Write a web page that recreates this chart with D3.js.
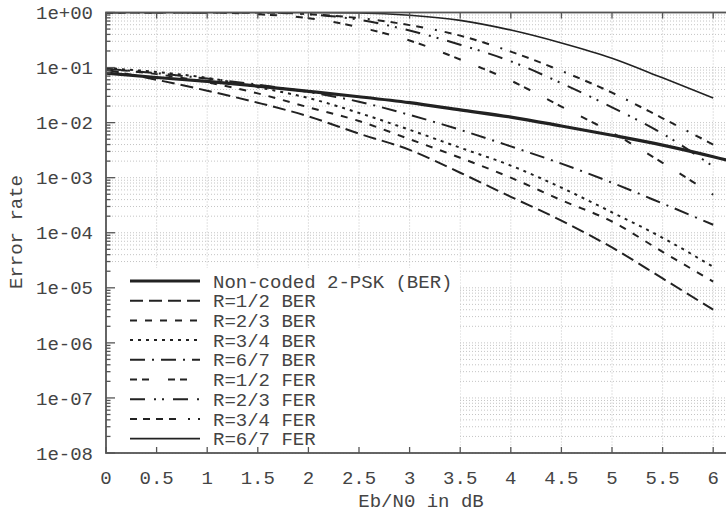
<!DOCTYPE html>
<html>
<head>
<meta charset="utf-8">
<script src="https://cdn.jsdelivr.net/npm/d3@7"></script>
<style>
  body { margin: 0; background: #fff; }
  svg { display: block; }
  text { font-family: "Liberation Mono", "DejaVu Sans Mono", monospace; font-size: 19px; fill: #444; }
</style>
</head>
<body>
<script>
// Eb/N0 sample points (dB)
var ebn0 = [0, 0.5, 1, 1.5, 2, 2.5, 3, 3.5, 4, 4.5, 5, 5.5, 6];
var ebn0Uncoded = [0, 0.5, 1, 1.5, 2, 2.5, 3, 3.5, 4, 4.5, 5, 5.5, 6, 6.5];

var uncodedBer = [7.9e-2, 6.6e-2, 5.6e-2, 4.6e-2, 3.7e-2, 2.95e-2, 2.3e-2, 1.7e-2, 1.26e-2, 8.7e-3, 5.9e-3, 3.9e-3, 2.4e-3, 1.4e-3];
var r12Ber = [9.1e-2, 6.0e-2, 3.8e-2, 2.3e-2, 1.3e-2, 6.3e-3, 3.2e-3, 1.23e-3, 4.5e-4, 1.66e-4, 5.4e-5, 1.48e-5, 4.0e-6];
var r23Ber = [9.5e-2, 7.6e-2, 5.4e-2, 3.4e-2, 1.9e-2, 1.07e-2, 5.0e-3, 2.3e-3, 1.0e-3, 3.9e-4, 1.6e-4, 4.5e-5, 1.3e-5];
var r34Ber = [9.8e-2, 8.3e-2, 6.5e-2, 4.4e-2, 2.8e-2, 1.5e-2, 7.4e-3, 3.5e-3, 1.66e-3, 6.6e-4, 2.35e-4, 8.1e-5, 2.4e-5];
var r67Ber = [9.5e-2, 7.9e-2, 6.3e-2, 4.9e-2, 3.6e-2, 2.4e-2, 1.38e-2, 7.4e-3, 3.7e-3, 1.8e-3, 8.1e-4, 3.4e-4, 1.4e-4];
var r12Fer = [1, 1, 1, 0.93, 0.79, 0.54, 0.31, 0.14, 5.8e-2, 1.95e-2, 6.6e-3, 1.86e-3, 4.9e-4];
var r23Fer = [1, 1, 1, 1, 0.93, 0.74, 0.47, 0.26, 0.13, 5.2e-2, 1.9e-2, 6.3e-3, 1.6e-3];
var r34Fer = [1, 1, 1, 1, 0.93, 0.79, 0.59, 0.38, 0.195, 8.7e-2, 3.5e-2, 1.2e-2, 4.0e-3];
var r67Fer = [1, 1, 1, 1, 1, 0.98, 0.89, 0.72, 0.48, 0.28, 0.148, 6.5e-2, 2.8e-2];

var xTicks = [0, 0.5, 1, 1.5, 2, 2.5, 3, 3.5, 4, 4.5, 5, 5.5, 6];
var yTicks = [1e0, 1e-1, 1e-2, 1e-3, 1e-4, 1e-5, 1e-6, 1e-7, 1e-8];
var yTickLabels = ["1e+00", "1e-01", "1e-02", "1e-03", "1e-04", "1e-05", "1e-06", "1e-07", "1e-08"];

var seriesNames = ["Non-coded 2-PSK (BER)", "R=1/2 BER", "R=2/3 BER", "R=3/4 BER", "R=6/7 BER",
                   "R=1/2 FER", "R=2/3 FER", "R=3/4 FER", "R=6/7 FER"];

var series = [
  { name: seriesNames[0], x: ebn0Uncoded, y: uncodedBer, width: 3.2, dash: null },
  { name: seriesNames[1], x: ebn0, y: r12Ber, width: 2, dash: "13,6" },
  { name: seriesNames[2], x: ebn0, y: r23Ber, width: 2, dash: "7,8" },
  { name: seriesNames[3], x: ebn0, y: r34Ber, width: 2, dash: "3,5" },
  { name: seriesNames[4], x: ebn0, y: r67Ber, width: 2, dash: "15,7,2,7" },
  { name: seriesNames[5], x: ebn0, y: r12Fer, width: 2, dash: "7,5,7,19" },
  { name: seriesNames[6], x: ebn0, y: r23Fer, width: 2, dash: "15,9,2,6,2,9" },
  { name: seriesNames[7], x: ebn0, y: r34Fer, width: 2, dash: "7,6,7,6,7,6,7,12,2,8" },
  { name: seriesNames[8], x: ebn0, y: r67Fer, width: 1.6, dash: null }
];

var W = 726, H = 512;
var plotLeft = 106, plotTop = 12.5, plotBottom = 453;

var x = d3.scaleLinear().domain([0, 6]).range([plotLeft, 713.2]);
var y = d3.scaleLog().domain([1e-8, 1]).range([plotBottom, plotTop]);
var plotRight = x(6.25);

var svg = d3.select("body").append("svg").attr("width", W).attr("height", H);

svg.append("clipPath").attr("id", "plot")
  .append("rect").attr("x", plotLeft).attr("y", plotTop)
  .attr("width", plotRight - plotLeft).attr("height", plotBottom - plotTop);

// minor y values 2..9 per decade
var yMinor = [];
for (var d = -8; d < 0; d++) {
  for (var m = 2; m <= 9; m++) yMinor.push(m * Math.pow(10, d));
}

var grid = svg.append("g").attr("stroke", "#c4c4c4").attr("stroke-width", 1).attr("stroke-dasharray", "1,2");

grid.selectAll("line.hy")
  .data(yMinor.concat(yTicks))
  .enter().append("line")
  .attr("x1", plotLeft).attr("x2", plotRight)
  .attr("y1", function (d) { return y(d); })
  .attr("y2", function (d) { return y(d); });

grid.selectAll("line.vx")
  .data(xTicks)
  .enter().append("line")
  .attr("y1", plotTop).attr("y2", plotBottom)
  .attr("x1", function (d) { return x(d); })
  .attr("x2", function (d) { return x(d); });

// key box hides the grid below it
var keyTop = 268, keyRight = 460;
svg.append("rect").attr("x", plotLeft).attr("y", keyTop)
  .attr("width", keyRight - plotLeft).attr("height", plotBottom - keyTop).attr("fill", "#fff");

// curves
var plot = svg.append("g").attr("clip-path", "url(#plot)");
series.forEach(function (s) {
  var pts = s.x.map(function (v, i) { return [v, s.y[i]]; });
  var line = d3.line()
    .x(function (p) { return x(p[0]); })
    .y(function (p) { return y(p[1]); })
    .curve(d3.curveMonotoneX);
  plot.append("path")
    .attr("d", line(pts))
    .attr("fill", "none")
    .attr("stroke", "#222")
    .attr("stroke-width", s.width)
    .attr("stroke-dasharray", s.dash);
});

// ticks
var ticks = svg.append("g").attr("stroke", "#555").attr("stroke-width", 1.3);
ticks.selectAll("line.ymaj").data(yTicks).enter().append("line")
  .attr("x1", plotLeft).attr("x2", plotLeft + 9)
  .attr("y1", function (d) { return y(d); }).attr("y2", function (d) { return y(d); });
ticks.selectAll("line.ymin").data(yMinor).enter().append("line")
  .attr("x1", plotLeft).attr("x2", plotLeft + 4.5)
  .attr("y1", function (d) { return y(d); }).attr("y2", function (d) { return y(d); });
ticks.selectAll("line.xb").data(xTicks).enter().append("line")
  .attr("y1", plotBottom).attr("y2", plotBottom - 6)
  .attr("x1", function (d) { return x(d); }).attr("x2", function (d) { return x(d); });
ticks.selectAll("line.xt").data(xTicks).enter().append("line")
  .attr("y1", plotTop).attr("y2", plotTop + 6)
  .attr("x1", function (d) { return x(d); }).attr("x2", function (d) { return x(d); });

// border
svg.append("rect").attr("x", plotLeft).attr("y", plotTop)
  .attr("width", plotRight - plotLeft).attr("height", plotBottom - plotTop)
  .attr("fill", "none").attr("stroke", "#555").attr("stroke-width", 1.8);

// tick labels
svg.selectAll("text.yl").data(yTicks).enter().append("text")
  .attr("x", 93).attr("y", function (d) { return y(d); })
  .attr("dy", "0.35em").attr("text-anchor", "end")
  .text(function (d, i) { return yTickLabels[i]; });

svg.selectAll("text.xl").data(xTicks).enter().append("text")
  .attr("x", function (d) { return x(d); }).attr("y", 477)
  .attr("dy", "0.35em").attr("text-anchor", "middle")
  .text(function (d) { return d; });

svg.append("text").attr("x", 421).attr("y", 500).attr("dy", "0.35em")
  .attr("text-anchor", "middle").text("Eb/N0 in dB");

svg.append("text").attr("transform", "translate(15,232) rotate(-90)")
  .attr("dy", "0.35em").attr("text-anchor", "middle").text("Error rate");

// key
var key = svg.append("g");
series.forEach(function (s, i) {
  var ry = 281 + i * 19.7;
  key.append("line")
    .attr("x1", 130).attr("x2", 200).attr("y1", ry).attr("y2", ry)
    .attr("stroke", "#222").attr("stroke-width", s.width)
    .attr("stroke-dasharray", s.dash);
  key.append("text").attr("x", 213).attr("y", ry).attr("dy", "0.35em").text(s.name);
});
</script>
</body>
</html>
